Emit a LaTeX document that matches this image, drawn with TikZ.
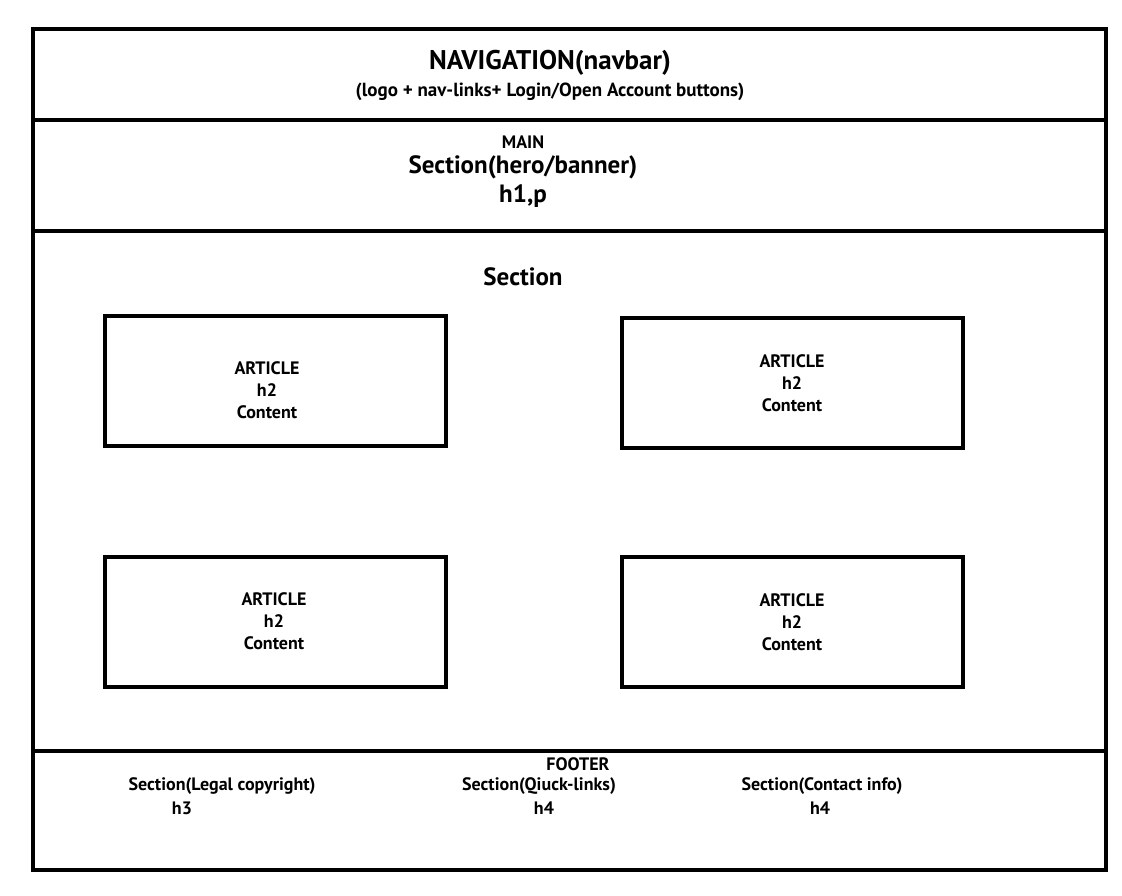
\documentclass[tikz,border=0pt]{standalone}
\usepackage{fontspec}
\setmainfont{PT Sans}
\usetikzlibrary{positioning}

\begin{document}
\begin{tikzpicture}[x=1pt, y=1pt,
  band/.style={draw=black, line width=3.5pt},
  article/.style={rectangle, draw=black, line width=3.5pt, minimum width=341pt, minimum height=130pt, inner sep=0pt},
  atext/.style={align=center, font=\fontsize{18}{22}\selectfont\bfseries},
  big/.style={font=\fontsize{27}{30}\selectfont\bfseries},
  mid/.style={font=\fontsize{25}{28}\selectfont\bfseries},
  small/.style={font=\fontsize{18}{21}\selectfont\bfseries}
]
  \useasboundingbox (0,0) rectangle (1122,-895);

  % Bands
  \draw[band] (33,-29) rectangle (1106,-120);
  \draw[band] (33,-120) rectangle (1106,-231);
  \draw[band] (33,-231) rectangle (1106,-751);
  \draw[band] (33,-751) rectangle (1106,-870);

  % Navigation
  \node[big] (nav) at (550,-63) {NAVIGATION(navbar)};
  \node[font=\fontsize{19}{22}\selectfont\bfseries] (navsub) at (550,-92) {(logo + nav-links+ Login/Open Account buttons)};

  % Main / hero
  \node[font=\fontsize{18}{21}\selectfont\bfseries] (main) at (523,-142) {MAIN};
  \node[mid] (hero) at (523,-167) {Section(hero/banner)};
  \node[mid] (heroh) at (523,-196) {h1,p};

  % Section with articles
  \node[mid] (section) at (523,-277) {Section};
  \node[article] (art1) at (275.5,-381) {};
  \node[article] (art2) at (792.5,-383) {};
  \node[article] (art3) at (275.5,-622) {};
  \node[article] (art4) at (792.5,-622) {};
  \node[atext] (art1t) at (267,-390) {ARTICLE\\h2\\Content};
  \node[atext] (art2t) at (792,-383) {ARTICLE\\h2\\Content};
  \node[atext] (art3t) at (274,-621) {ARTICLE\\h2\\Content};
  \node[atext] (art4t) at (792,-622) {ARTICLE\\h2\\Content};

  % Footer
  \node[small] (footer) at (578,-764) {FOOTER};
  \node[small] (legal) at (222,-786) {Section(Legal copyright)};
  \node[small] (legalh) at (182,-808) {h3};
  \node[small] (quick) at (539,-786) {Section(Qiuck-links)};
  \node[small] (quickh) at (544,-808) {h4};
  \node[small] (contact) at (822,-786) {Section(Contact info)};
  \node[small] (contacth) at (820,-808) {h4};
\end{tikzpicture}
\end{document}
